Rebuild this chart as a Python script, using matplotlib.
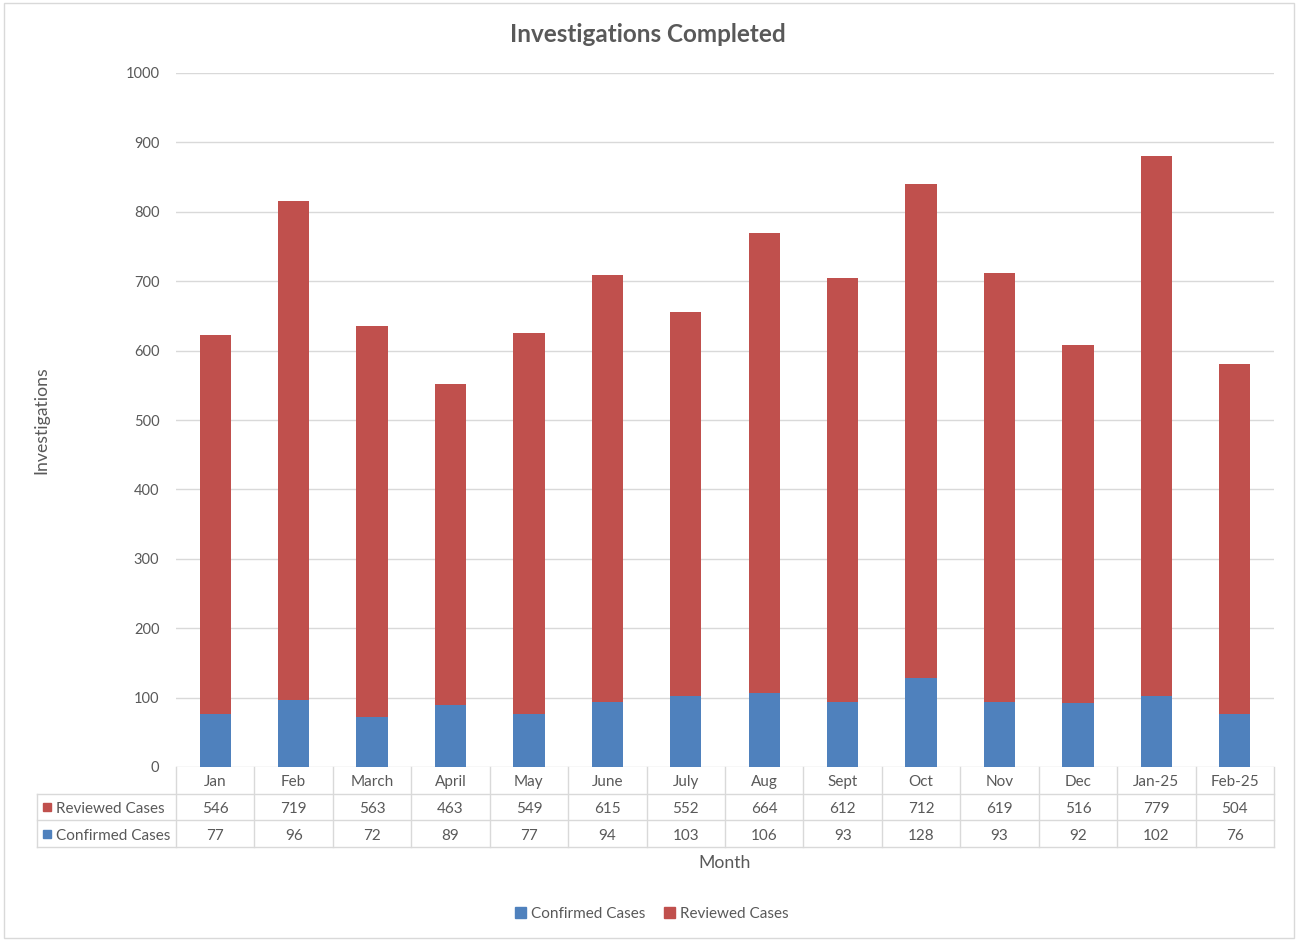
import matplotlib.pyplot as plt
from matplotlib.patches import Patch, Rectangle

months = ['Jan', 'Feb', 'March', 'April', 'May', 'June', 'July', 'Aug',
          'Sept', 'Oct', 'Nov', 'Dec', 'Jan-25', 'Feb-25']
reviewed = [546, 719, 563, 463, 549, 615, 552, 664, 612, 712, 619, 516, 779, 504]
confirmed = [77, 96, 72, 89, 77, 94, 103, 106, 93, 128, 93, 92, 102, 76]
row_names = ['Reviewed Cases', 'Confirmed Cases']

red = '#C0504D'
blue = '#4F81BD'
txt = '#595959'
grid = '#D9D9D9'

plt.rcParams['font.family'] = ['Lato', 'DejaVu Sans']

fig = plt.figure(figsize=(12.96, 9.4), dpi=100)
ax = fig.add_axes([176 / 1296, 1 - 767 / 940, 1098 / 1296, 694 / 940])

x = list(range(len(months)))
ax.bar(x, confirmed, width=0.4, color=blue, zorder=3)
ax.bar(x, reviewed, width=0.4, bottom=confirmed, color=red, zorder=3)

ax.set_xlim(-0.5, len(months) - 0.5)
ax.set_ylim(0, 1000)
ax.set_yticks(range(0, 1001, 100))
ax.yaxis.grid(True, color=grid, linewidth=1, zorder=0)
ax.set_xticks([])
for s in ax.spines.values():
    s.set_visible(False)
ax.tick_params(axis='y', length=0, pad=12, labelsize=10.5, labelcolor=txt)

# data table under the bars (x in data units, y in axes units)
h = (80 / 3) / 694
lw = 139 / 1098
dy = 2 / 694  # nudge text down a touch
xt = ax.get_xaxis_transform()
kw = dict(color=grid, linewidth=1, clip_on=False)
for i in range(len(months) + 1):
    ax.plot([i - 0.5, i - 0.5], [0, -3 * h], transform=xt, **kw)
ax.plot([-lw, -lw], [-h, -3 * h], transform=ax.transAxes, **kw)
for k in (1, 2, 3):
    ax.plot([-lw, 1], [-k * h, -k * h], transform=ax.transAxes, **kw)

tkw = dict(ha='center', va='center', fontsize=11, color=txt, clip_on=False)
for i, m in enumerate(months):
    ax.text(i, -0.5 * h - dy, m, transform=xt, **tkw)
    ax.text(i, -1.5 * h - dy, str(reviewed[i]), transform=xt, **tkw)
    ax.text(i, -2.5 * h - dy, str(confirmed[i]), transform=xt, **tkw)

for k, (name, col) in enumerate(zip(row_names, [red, blue])):
    yy = -(1.5 + k) * h
    ax.plot([-0.1175], [yy], marker='s', ms=6, color=col,
            transform=ax.transAxes, clip_on=False, linestyle='none')
    ax.text(-0.1093, yy - dy, name, transform=ax.transAxes, ha='left', va='center',
            fontsize=11, color=txt)

fig.text(725 / 1296, 1 - 863 / 940, 'Month', ha='center', va='center',
         fontsize=12.7, color=txt)
fig.text(41 / 1296, 1 - 420 / 940, 'Investigations', ha='center', va='center',
         rotation=90, fontsize=12.7, color=txt)
fig.text(648 / 1296, 1 - 35 / 940, 'Investigations Completed', ha='center',
         va='center', fontsize=17.5, fontweight='bold', color=txt)

handles = [Patch(color=blue, label='Confirmed Cases'),
           Patch(color=red, label='Reviewed Cases')]
fig.legend(handles=handles, loc='center', bbox_to_anchor=(652 / 1296, 1 - 914 / 940),
           ncol=2, frameon=False, fontsize=11, labelcolor=txt,
           handlelength=0.7, handleheight=0.7, handletextpad=0.35, columnspacing=1.2)

fig.add_artist(Rectangle((4 / 1296, 2 / 940), 1290 / 1296, 935 / 940,
                         transform=fig.transFigure, fill=False,
                         edgecolor=grid, linewidth=1))

fig.savefig('out.png', dpi=100)
